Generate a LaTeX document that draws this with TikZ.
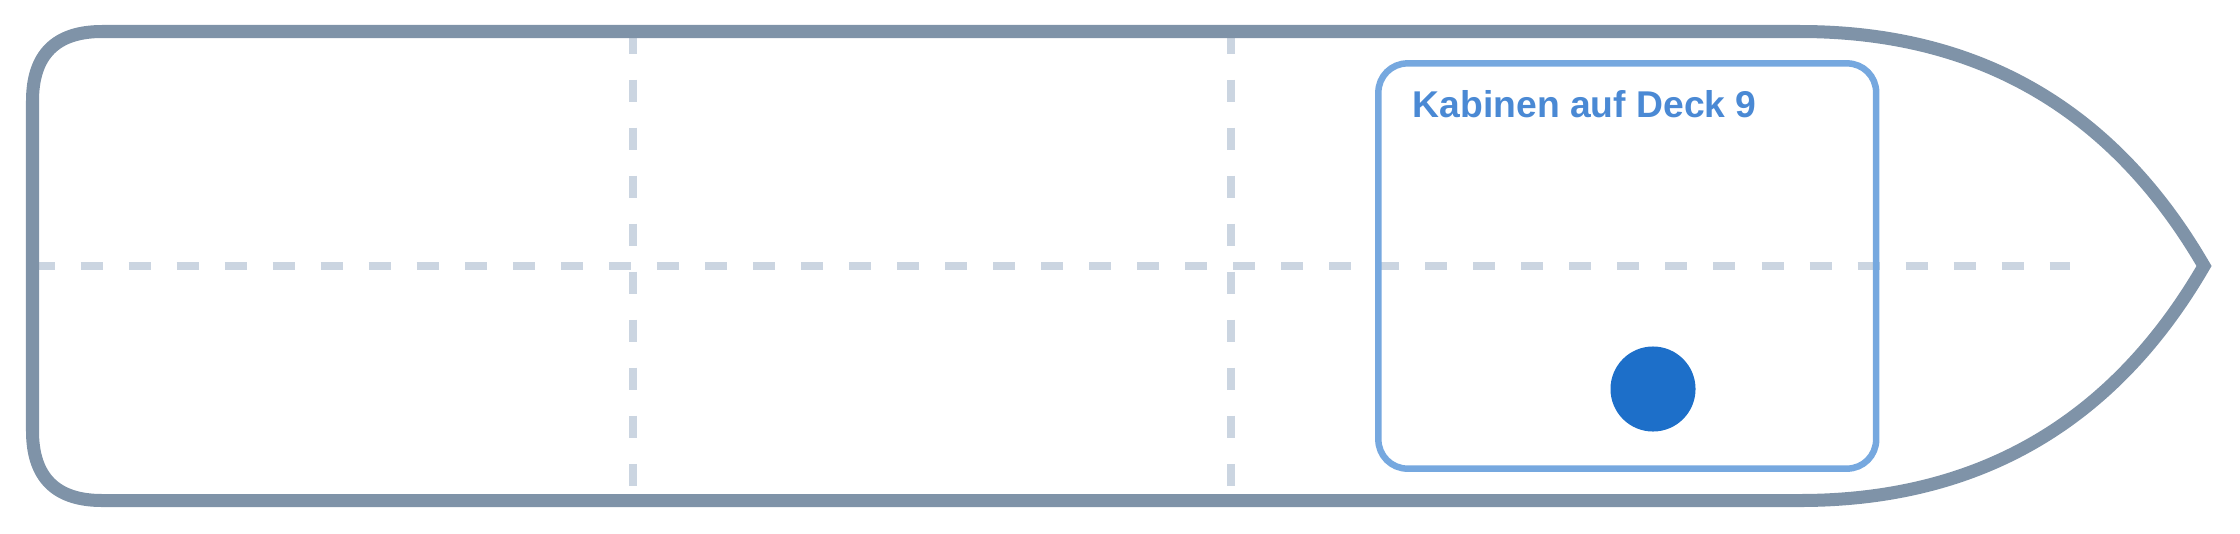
\documentclass[tikz,border=0pt]{standalone}
\usepackage{fontspec}
\setmainfont{Liberation Sans}
\usetikzlibrary{positioning}
\definecolor{hullgray}{HTML}{7F93A8}
\definecolor{gridgray}{HTML}{CBD5E1}
\definecolor{cabinblue}{HTML}{76A8DF}
\definecolor{labelblue}{HTML}{4A89D4}
\definecolor{dotblue}{HTML}{1D6FC9}

\begin{document}
\begin{tikzpicture}[x=0.01cm,y=-0.01cm,
    gridline/.style={gridgray, line width=0.08cm, dash pattern=on 0.22cm off 0.26cm},
    hull/.style={hullgray, line width=0.13cm, line join=miter},
    cabinbox/.style={draw=cabinblue, line width=0.065cm, rounded corners=0.29cm, minimum width=4.975cm, minimum height=4.05cm, inner sep=0pt},
    cabinlabel/.style={labelblue, font=\bfseries\fontsize{10.6}{12}\selectfont, inner sep=0pt, anchor=base west},
    cabindot/.style={circle, fill=dotblue, minimum size=0.85cm, inner sep=0pt}]
  \useasboundingbox (0,0) rectangle (2240,533);
  % grid
  \coordinate (gw) at (32.5,266);
  \coordinate (ge) at (2070,266);
  \draw[gridline] (gw) -- (ge);
  \foreach \x/\n in {633/a,1231/b} {
    \coordinate (t\n) at (\x,31.5);
    \coordinate (b\n) at (\x,500.5);
    \draw[gridline] (t\n) -- (b\n);
  }
  % cabin
  \node[cabinbox] (deck) at (1627.25,266) {};
  \node[cabinlabel] (decklabel) at (1412,117) {Kabinen auf Deck 9};
  \node[cabindot] (cabin) at (1653,389) {};
  % hull
  \draw[hull] (32.5,101) -- (32.5,431) .. controls (32.5,477.33) and (55.67,500.5) .. (102,500.5)
    -- (1800,500.5) .. controls (1978.67,500.5) and (2113.33,422.33) .. (2204,266)
    .. controls (2113.33,109.67) and (1978.67,31.5) .. (1800,31.5)
    -- (102,31.5) .. controls (55.67,31.5) and (32.5,54.67) .. (32.5,101) -- cycle;
\end{tikzpicture}
\end{document}
